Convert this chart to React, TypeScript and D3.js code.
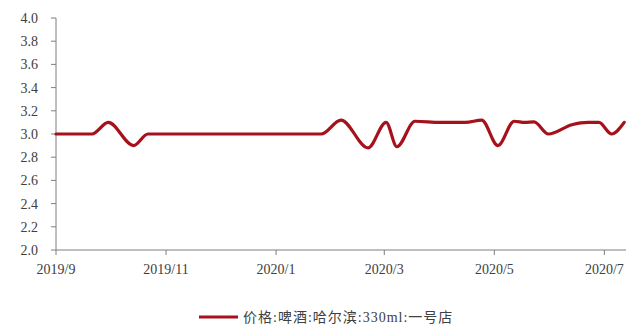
import React from "react";
import * as d3 from "d3";

const dates: string[] = [
  "2019-09-01", "2019-09-11", "2019-09-21", "2019-09-30", "2019-10-14", "2019-10-22",
  "2019-10-28", "2019-11-15", "2019-12-15", "2020-01-10", "2020-01-26", "2020-02-06",
  "2020-02-21", "2020-03-02", "2020-03-08", "2020-03-18", "2020-04-01", "2020-04-15",
  "2020-04-24", "2020-05-03", "2020-05-12", "2020-05-18", "2020-05-23", "2020-05-31",
  "2020-06-13", "2020-06-22", "2020-06-28", "2020-07-05", "2020-07-12",
];
const prices: number[] = [
  3.0, 3.0, 3.0, 3.1, 2.9, 3.0,
  3.0, 3.0, 3.0, 3.0, 3.0, 3.12,
  2.88, 3.1, 2.89, 3.11, 3.1, 3.1,
  3.12, 2.9, 3.11, 3.1, 3.105, 3.0,
  3.08, 3.1, 3.1, 3.0, 3.1,
];
const yTicks: number[] = [2.0, 2.2, 2.4, 2.6, 2.8, 3.0, 3.2, 3.4, 3.6, 3.8, 4.0];
const xTickDates: string[] = ["2019-09-01", "2019-11-01", "2020-01-01", "2020-03-01", "2020-05-01", "2020-07-01"];
const xTickLabels: string[] = ["2019/9", "2019/11", "2020/1", "2020/3", "2020/5", "2020/7"];
const seriesName = "价格:啤酒:哈尔滨:330ml:一号店";

const parse = d3.timeParse("%Y-%m-%d");

export default function App() {
  const W = 640, H = 329;
  const left = 56, right = 626, top = 18, bottom = 250;
  const x = d3.scaleTime()
    .domain([parse("2019-09-01") as Date, parse("2020-07-13") as Date])
    .range([left, right]);
  const y = d3.scaleLinear().domain([2, 4]).range([bottom, top]);
  const data = dates.map((d, i) => ({ d: parse(d) as Date, v: prices[i] }));
  const line = d3.line<{ d: Date; v: number }>()
    .x((p) => x(p.d))
    .y((p) => y(p.v))
    .curve(d3.curveMonotoneX);
  const axisColor = "#7f7f7f";
  const font = "'Liberation Serif', 'Times New Roman', serif";
  return (
    <svg width={W} height={H} style={{ position: "absolute", left: 0, top: 0 }}>
      <rect x={0} y={0} width={W} height={H} fill="#fff" />
      {/* y axis */}
      <line x1={left} x2={left} y1={top} y2={bottom} stroke={axisColor} strokeWidth={1} />
      {yTicks.map((t) => (
        <g key={t}>
          <line x1={left - 5} x2={left} y1={y(t)} y2={y(t)} stroke={axisColor} />
          <text x={38} y={y(t)} dy="0.35em" textAnchor="end" fontFamily={font} fontSize={14} fill="#404040">
            {t.toFixed(1)}
          </text>
        </g>
      ))}
      {/* x axis */}
      <line x1={left} x2={right} y1={bottom} y2={bottom} stroke={axisColor} strokeWidth={1} />
      {xTickDates.map((d, i) => {
        const px = x(parse(d) as Date);
        return (
          <g key={d}>
            <line x1={px} x2={px} y1={bottom} y2={bottom + 5} stroke={axisColor} />
            <text x={px} y={bottom + 24} textAnchor="middle" fontFamily={font} fontSize={14} fill="#404040">
              {xTickLabels[i]}
            </text>
          </g>
        );
      })}
      <path d={line(data) || ""} fill="none" stroke="#a5121c" strokeWidth={3.2} strokeLinejoin="round" strokeLinecap="round" />
      {/* legend */}
      <line x1={199} x2={238} y1={317} y2={317} stroke="#a5121c" strokeWidth={3.2} />
      <text x={243} y={322} fontFamily={"'Liberation Serif', 'Noto Sans CJK SC', serif"} fontSize={14} letterSpacing={1} fill="#404040">
        {seriesName}
      </text>
    </svg>
  );
}
